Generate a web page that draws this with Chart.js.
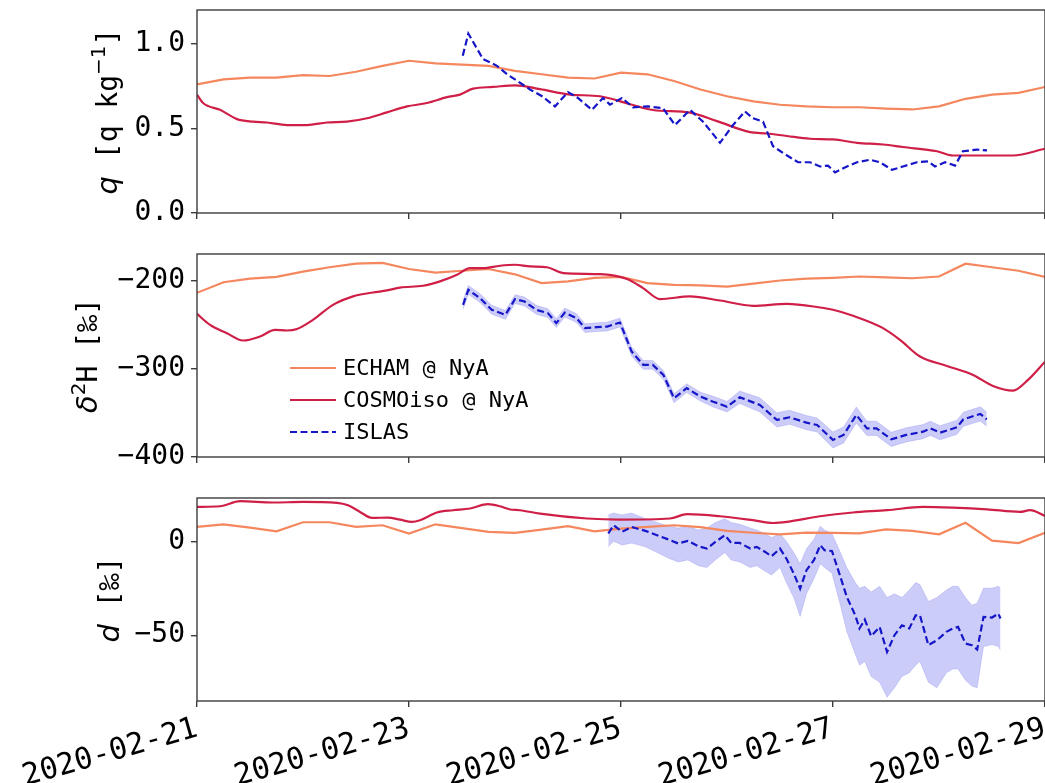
<!DOCTYPE html>
<html>
<head>
<meta charset="utf-8">
<script src="https://cdn.jsdelivr.net/npm/chart.js@4.4.1/dist/chart.umd.min.js"></script>
<style>
html,body{margin:0;padding:0;background:#fff;width:1045px;height:783px;overflow:hidden;}
canvas{position:absolute;left:0;}
</style>
</head>
<body>
<canvas id="c1" width="1045" height="240" style="top:0"></canvas>
<canvas id="c2" width="1045" height="240" style="top:240px"></canvas>
<canvas id="c3" width="1045" height="303" style="top:480px"></canvas>
<script>
// ---------------- DATA (time in days since 2020-02-21 00:00) ----------------
const xTickDays   = [0, 2, 4, 6, 8];
const xTickLabels = ['2020-02-21', '2020-02-23', '2020-02-25', '2020-02-27', '2020-02-29'];
const qTicks  = [0, 0.5, 1.0];
const dHTicks = [-400, -300, -200];
const dTicks  = [-50, 0];

// ECHAM @ NyA, 6-hourly
const echamT = [0,0.25,0.5,0.75,1,1.25,1.5,1.75,2,2.25,2.5,2.75,3,3.25,3.5,3.75,4,4.25,4.5,4.75,5,5.25,5.5,5.75,6,6.25,6.5,6.75,7,7.25,7.5,7.75,8];
const echamQ = [0.76,0.79,0.80,0.80,0.815,0.81,0.835,0.87,0.90,0.885,0.877,0.87,0.84,0.82,0.80,0.795,0.83,0.82,0.78,0.73,0.69,0.66,0.64,0.63,0.625,0.625,0.617,0.612,0.63,0.675,0.70,0.71,0.745];
const echamDH = [-214,-202,-198,-196,-190,-185,-181,-180,-187,-191,-189,-187,-193,-203,-201,-197,-196,-203,-205,-205.5,-207,-203.5,-200,-198,-197,-195.5,-196.5,-197.5,-195.5,-181,-185,-189,-196];
const echamD = [7.6,9.0,7.2,5.3,10.1,10.1,7.6,8.5,4.1,9.0,7.0,5.0,4.5,6.2,8.0,5.3,6.7,7.6,8.5,7.5,5.5,4.5,3.6,4.6,4.4,4.2,6.3,5.5,3.7,9.8,0.3,-1.0,4.5];

// COSMOiso @ NyA
const cosmoQT = [0,0.057,0.217,0.377,0.528,0.660,0.849,1.038,1.226,1.415,1.604,1.792,1.981,2.170,2.358,2.481,2.604,2.792,3.000,3.236,3.519,3.802,4.085,4.302,4.651,4.906,5.217,5.377,5.566,5.783,6.000,6.226,6.472,6.660,6.981,7.132,7.453,7.698,8.000];
const cosmoQ  = [0.70,0.65,0.61,0.555,0.54,0.535,0.52,0.52,0.535,0.54,0.56,0.595,0.63,0.65,0.685,0.70,0.735,0.745,0.755,0.732,0.70,0.69,0.643,0.609,0.593,0.543,0.478,0.47,0.455,0.439,0.435,0.415,0.405,0.39,0.365,0.34,0.34,0.34,0.38];
const cosmoDHT = [0,0.123,0.283,0.434,0.594,0.736,0.849,0.943,1.094,1.283,1.472,1.660,1.792,1.915,2.132,2.292,2.453,2.575,2.698,2.858,3.000,3.142,3.302,3.453,3.802,4.057,4.208,4.368,4.651,4.934,5.245,5.566,5.877,6.000,6.189,6.472,6.632,6.821,7.075,7.321,7.509,7.698,7.840,8.000];
const cosmoDH  = [-237.8,-250.3,-259.7,-268,-263.5,-256,-256.7,-255,-244.6,-227.6,-218,-213.6,-211.3,-208,-206,-201,-193.5,-186,-186,-183.3,-182.2,-184,-185,-191.6,-192.8,-198.4,-208.6,-221.1,-218.1,-222.7,-228.7,-226.4,-230.6,-233.2,-240,-254,-267.3,-286.2,-296.8,-307,-319.5,-324.8,-312.6,-292];
const cosmoDT = [0,0.217,0.406,0.717,1.000,1.321,1.425,1.538,1.651,1.802,1.915,2.028,2.104,2.264,2.415,2.575,2.745,2.858,2.953,3.047,3.236,3.679,3.991,4.462,4.623,4.934,5.245,5.434,5.566,5.877,6.189,6.509,6.849,7.132,7.453,7.764,7.858,8.000];
const cosmoD  = [18.3,18.6,21.3,20.6,20.9,20.4,19.1,15.6,12.4,12.6,11.5,10.3,11.2,15.3,16.5,17.4,19.7,18.6,16.9,16.5,14.7,12.1,11.5,12.1,14.4,13.3,11.2,9.7,10.3,13.3,15.3,16.5,18.3,17.9,17.0,15.6,16.5,13.5];

// ISLAS
const islasQT = [2.507,2.560,2.698,2.830,2.925,3.047,3.142,3.255,3.377,3.500,3.594,3.726,3.830,3.896,4.009,4.113,4.255,4.396,4.509,4.651,4.774,4.934,5.057,5.170,5.245,5.340,5.434,5.528,5.670,5.783,5.877,5.953,6.019,6.132,6.226,6.349,6.443,6.557,6.660,6.792,6.896,6.962,7.057,7.151,7.226,7.358,7.453];
const islasQ  = [0.93,1.06,0.91,0.87,0.82,0.77,0.73,0.69,0.63,0.715,0.68,0.61,0.68,0.64,0.68,0.625,0.63,0.62,0.52,0.61,0.54,0.415,0.52,0.60,0.56,0.54,0.395,0.355,0.30,0.30,0.275,0.28,0.24,0.275,0.30,0.315,0.30,0.255,0.275,0.30,0.305,0.275,0.30,0.28,0.365,0.375,0.37];

const islasDHT = [2.51,2.56,2.67,2.78,2.91,3.00,3.09,3.20,3.31,3.39,3.47,3.58,3.66,3.77,3.87,3.99,4.10,4.21,4.30,4.40,4.50,4.62,4.75,4.87,5.00,5.12,5.31,5.47,5.59,5.75,5.85,6.00,6.10,6.22,6.32,6.41,6.55,6.69,6.85,6.92,7.01,7.17,7.23,7.39,7.45];
const islasDH  = [-227.6,-210.6,-220,-233.2,-238.9,-221.1,-223.8,-233.2,-237,-248.3,-236.3,-242.7,-254,-252.9,-252.2,-247.6,-280.5,-295.6,-295.6,-307,-333.4,-322,-331.6,-337.3,-343,-332.3,-341,-358,-355,-361.1,-363.7,-380.7,-375,-352.4,-367.5,-367.5,-380,-375,-371.3,-367.5,-372.5,-366.3,-357.3,-351.2,-357.3];
const islasDHErr = [5,5,5,5,5,5,5,5,5,5,5,5,5,5,5,5,5,5,5,5,5,5,5,6,6,7,8,8,8,8,8,9,9,9,8,8,8,8,8,8,8,8,8,8,8];

const islasDT = [3.88,3.93,4.01,4.10,4.23,4.34,4.45,4.54,4.63,4.73,4.81,4.89,4.98,5.04,5.12,5.22,5.28,5.36,5.42,5.50,5.56,5.63,5.69,5.75,5.82,5.88,5.92,5.99,6.07,6.13,6.21,6.25,6.30,6.36,6.44,6.51,6.58,6.65,6.72,6.78,6.82,6.90,6.98,7.07,7.13,7.18,7.25,7.31,7.36,7.42,7.50,7.56,7.58];
const islasD  = [4.1,8.5,5.0,7.6,5.5,3.2,0.9,-1.2,0.2,-2.7,-3.9,-0.4,3.2,-0.9,-0.9,-3.9,-3.0,-5.7,-8.0,-3.9,-9.2,-17.2,-25.2,-15.4,-10.1,-2.1,-4.8,-5.2,-19,-29.6,-39.4,-46.4,-41.7,-50.5,-45.6,-58.9,-50,-44.7,-46.4,-39.4,-39.4,-55.3,-52.7,-48.2,-46.4,-45.6,-54.4,-55.3,-57.6,-40.3,-40.6,-38.5,-41.1];
const islasDHigh = [14,15,14,15,12,10,8,7,8,6,7,10,12,10,9,7,6,4,2,4,0,-6,-12,-4,1,8,6,4,-6,-14,-22,-25,-24,-27,-24,-30,-28,-30,-26,-22,-23,-32,-30,-26,-24,-24,-30,-34,-33,-25,-25,-24,-25];
const islasDLow  = [-3,0,-2,-1,-3,-6,-9,-11,-10,-13,-14,-10,-6,-10,-11,-14,-13,-16,-18,-14,-22,-30,-40,-28,-20,-12,-14,-17,-34,-48,-60,-66,-64,-72,-75,-83,-78,-72,-70,-66,-64,-75,-78,-70,-68,-68,-74,-77,-78,-56,-55,-56,-58];

// ---------------- STYLE ----------------
const C_ECHAM = '#f4875d';
const C_COSMO = '#cf1f47';
const C_ISLAS = '#1616c9';
const C_BAND  = 'rgba(100,100,235,0.33)';
const C_BANDE = 'rgba(100,100,235,0.22)';
const SPINE = '#3c3c3c';
const MONO = '"DejaVu Sans Mono", monospace';

Chart.defaults.font.family = MONO;
Chart.defaults.color = '#000';
Chart.defaults.animation = false;

function pts(t, v) { return t.map((x, i) => ({x: x, y: v[i]})); }

function framePlugin(segs, titleX) {
  return {
    id: 'frameTitle',
    afterDraw(chart) {
      const a = chart.chartArea, ctx = chart.ctx;
      ctx.save();
      ctx.strokeStyle = SPINE; ctx.lineWidth = 1.4;
      ctx.strokeRect(a.left, a.top, a.right - a.left, a.bottom - a.top);
      ctx.translate(titleX, (a.top + a.bottom) / 2);
      ctx.rotate(-Math.PI / 2);
      let total = 0;
      const widths = segs.map(s => { ctx.font = s.font; const w = ctx.measureText(s.text).width; total += w; return w; });
      let x = -total / 2;
      ctx.fillStyle = '#000'; ctx.textAlign = 'left'; ctx.textBaseline = 'alphabetic';
      segs.forEach((s, i) => { ctx.font = s.font; ctx.fillText(s.text, x, 10 + (s.dy || 0)); x += widths[i]; });
      ctx.restore();
    }
  };
}

const legendPlugin = {
  id: 'insideLegend',
  afterDatasetsDraw(chart) {
    const ctx = chart.ctx;
    const items = chart.data.datasets.filter(d => d.label);
    ctx.save();
    ctx.font = '22px ' + MONO;
    ctx.textBaseline = 'middle'; ctx.textAlign = 'left';
    items.forEach((d, i) => {
      const y = 128 + i * 32;
      ctx.strokeStyle = d.borderColor; ctx.lineWidth = d.borderWidth;
      ctx.setLineDash(d.borderDash || []);
      ctx.beginPath(); ctx.moveTo(290, y); ctx.lineTo(336, y); ctx.stroke();
      ctx.setLineDash([]);
      ctx.fillStyle = '#000';
      ctx.fillText(d.label, 343, y + 1);
    });
    ctx.restore();
  }
};

function xScale(showLabels, height) {
  return {
    type: 'linear', min: 0, max: 8,
    afterBuildTicks: s => { s.ticks = xTickDays.map(v => ({value: v})); },
    afterFit: s => { s.height = height; s.paddingLeft = 0; s.paddingRight = 0; },
    grid: {drawOnChartArea: false, drawTicks: true, tickLength: 6, color: SPINE, lineWidth: 1.4},
    border: {display: false},
    ticks: {display: showLabels, autoSkip: false, minRotation: 16, maxRotation: 16, padding: 4,
      font: {size: 30}, color: '#000',
      callback: v => xTickLabels[xTickDays.indexOf(v)]}
  };
}

function yScale(min, max, tickVals, fmt) {
  return {
    type: 'linear', min: min, max: max,
    afterBuildTicks: s => { s.ticks = tickVals.map(v => ({value: v})); },
    afterFit: s => { s.width = 197; s.paddingTop = 0; s.paddingBottom = 0; },
    grid: {drawOnChartArea: false, drawTicks: true, tickLength: 6, color: SPINE, lineWidth: 1.4},
    border: {display: false},
    ticks: {font: {size: 28}, padding: 6, color: '#000', callback: v => fmt(v)}
  };
}

const minus = v => String(v).replace('-', '\u2212');

function lineDs(label, data, color, extra) {
  return Object.assign({label: label, data: data, borderColor: color, borderWidth: 2.2,
    pointRadius: 0, fill: false, tension: 0}, extra || {});
}
function bandDs(data, fill) {
  return {label: '', data: data, borderColor: C_BANDE, borderWidth: 1, backgroundColor: C_BAND,
    pointRadius: 0, fill: fill, tension: 0, order: 5};
}

function makeChart(id, padTop, xCfg, yCfg, datasets, plugins) {
  return new Chart(document.getElementById(id), {
    type: 'line',
    data: {datasets: datasets},
    options: {
      responsive: false, animation: false, parsing: true,
      layout: {padding: {top: padTop, left: 0, right: 0, bottom: 0}},
      plugins: {legend: {display: false}, tooltip: {enabled: false}},
      scales: {x: xCfg, y: yCfg}
    },
    plugins: plugins
  });
}

const monoF = '28px ' + MONO;
const itF = 'italic 29px "DejaVu Sans"';

// Panel 1: q
makeChart('c1', 10, xScale(false, 27), yScale(0, 1.2, qTicks, v => v.toFixed(1)), [
  lineDs('ECHAM @ NyA', pts(echamT, echamQ), C_ECHAM, {order: 3}),
  lineDs('COSMOiso @ NyA', pts(cosmoQT, cosmoQ), C_COSMO, {order: 2, cubicInterpolationMode: 'monotone'}),
  lineDs('ISLAS', pts(islasQT, islasQ), C_ISLAS, {order: 1, borderDash: [7, 3.5]})
], [framePlugin([
  {text: 'q', font: itF},
  {text: ' [q\u2009kg', font: monoF},
  {text: '\u22121', font: '20px "DejaVu Sans"', dy: -12},
  {text: ']', font: monoF}
], 107)]);

// Panel 2: delta 2H
makeChart('c2', 14, xScale(false, 23), yScale(-400, -170, dHTicks, minus), [
  bandDs(pts(islasDHT, islasDH.map((v, i) => v - islasDHErr[i])), false),
  bandDs(pts(islasDHT, islasDH.map((v, i) => v + islasDHErr[i])), '-1'),
  lineDs('ECHAM @ NyA', pts(echamT, echamDH), C_ECHAM, {order: 3}),
  lineDs('COSMOiso @ NyA', pts(cosmoDHT, cosmoDH), C_COSMO, {order: 2, cubicInterpolationMode: 'monotone'}),
  lineDs('ISLAS', pts(islasDHT, islasDH), C_ISLAS, {order: 1, borderDash: [7, 3.5]})
], [framePlugin([
  {text: '\u03b4', font: itF},
  {text: '2', font: '20px "DejaVu Sans"', dy: -12},
  {text: 'H [\u2030]', font: monoF}
], 87), legendPlugin]);

// Panel 3: d-excess
makeChart('c3', 18, xScale(true, 82), yScale(-85, 23, dTicks, minus), [
  bandDs(pts(islasDT, islasDLow), false),
  bandDs(pts(islasDT, islasDHigh), '-1'),
  lineDs('ECHAM @ NyA', pts(echamT, echamD), C_ECHAM, {order: 3}),
  lineDs('COSMOiso @ NyA', pts(cosmoDT, cosmoD), C_COSMO, {order: 2, cubicInterpolationMode: 'monotone'}),
  lineDs('ISLAS', pts(islasDT, islasD), C_ISLAS, {order: 1, borderDash: [7, 3.5]})
], [framePlugin([
  {text: 'd', font: itF},
  {text: ' [\u2030]', font: monoF}
], 109)]);
</script>
</body>
</html>
